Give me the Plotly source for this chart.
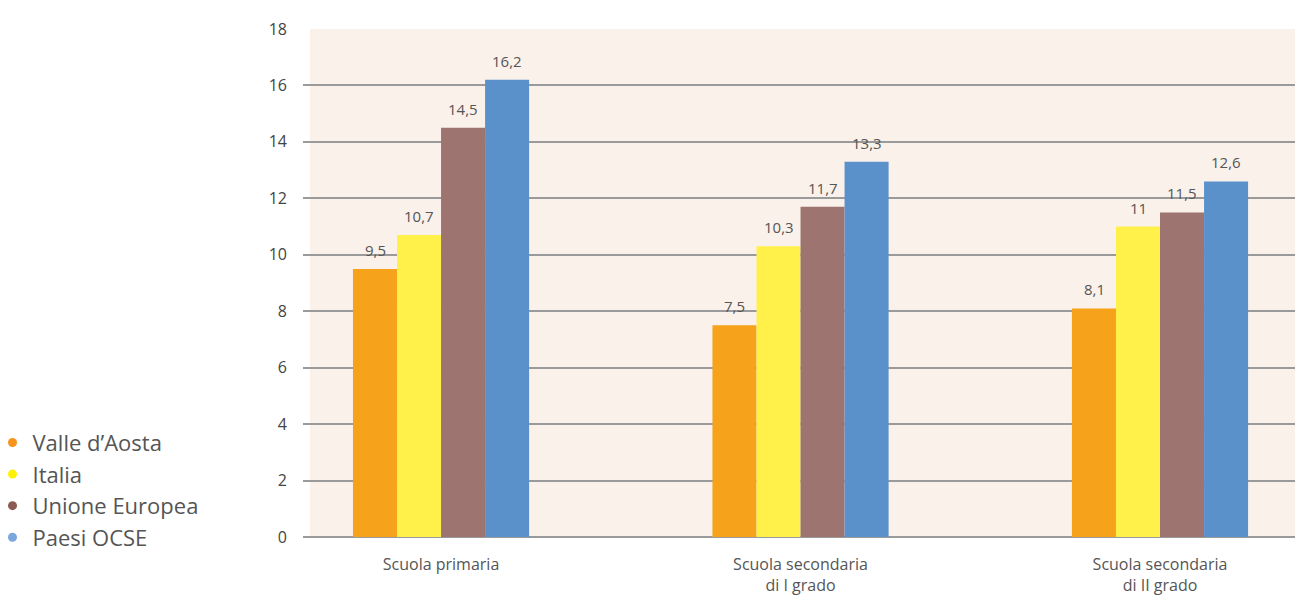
import plotly.graph_objects as go

categories = ["Scuola primaria", "Scuola secondaria<br>di I grado", "Scuola secondaria<br>di II grado"]
series_names = ["Valle d\u2019Aosta", "Italia", "Unione Europea", "Paesi OCSE"]
valle = [9.5, 7.5, 8.1]
italia = [10.7, 10.3, 11]
ue = [14.5, 11.7, 11.5]
ocse = [16.2, 13.3, 12.6]
bar_colors = ["#F7A21B", "#FFF04A", "#9E7470", "#5B91CB"]
legend_colors = ["#F7941D", "#FFF200", "#8B5A55", "#7AA7DC"]
y_ticks = [0, 2, 4, 6, 8, 10, 12, 14, 16, 18]

def fmt(v):
    s = ("%g" % v)
    return s.replace(".", ",")

FONT = "Open Sans"
all_series = [valle, italia, ue, ocse]

fig = go.Figure()
for name, vals, col in zip(series_names, all_series, bar_colors):
    fig.add_trace(go.Bar(
        x=categories, y=vals, name=name, marker=dict(color=col, line=dict(width=0)),
        showlegend=False,
    ))
for name, col in zip(series_names, legend_colors):
    fig.add_trace(go.Scatter(
        x=[None], y=[None], mode="markers", name=name,
        marker=dict(color=col, size=9, symbol="circle"),
    ))

# value labels above each bar (bar pixel width ~44)
bar_px = 44
n = len(all_series)
for i, vals in enumerate(all_series):
    off = (i - (n - 1) / 2) * bar_px
    for cat, v in zip(categories, vals):
        fig.add_annotation(x=cat, y=v, text=fmt(v), showarrow=False, xanchor="center",
                           yanchor="bottom", xshift=off, yshift=7,
                           font=dict(size=15, color="#555555", family=FONT))

fig.update_layout(
    width=1295, height=596,
    margin=dict(l=303, r=0, t=29, b=59, autoexpand=False),
    paper_bgcolor="white", plot_bgcolor="white",
    barmode="group", bargap=0.51, bargroupgap=0,
    font=dict(family=FONT, color="#444444", size=16),
    showlegend=True,
    legend=dict(
        x=-0.313, y=0.227, xanchor="left", yanchor="top",
        font=dict(size=22, color="#555555", family=FONT),
        itemwidth=30, tracegroupgap=0, bgcolor="rgba(0,0,0,0)",
    ),
    shapes=[dict(type="rect", xref="paper", yref="paper", x0=0.007, x1=1, y0=0, y1=1,
                 fillcolor="#FAF1EB", line=dict(width=0), layer="below")],
)
fig.update_xaxes(range=[-0.384, 2.3755], showgrid=False, showline=False, ticks="",
                 ticklabelstandoff=16, tickfont=dict(size=16, color="#555555"))
fig.update_yaxes(range=[0, 18], tickvals=y_ticks, showgrid=True, gridcolor="#9A9A9A", gridwidth=1.5,
                 zeroline=True, zerolinecolor="#9A9A9A", zerolinewidth=1.5, showline=False,
                 ticks="", ticklabelstandoff=15, tickfont=dict(size=16, color="#444444"))

fig.write_html("out.html")
